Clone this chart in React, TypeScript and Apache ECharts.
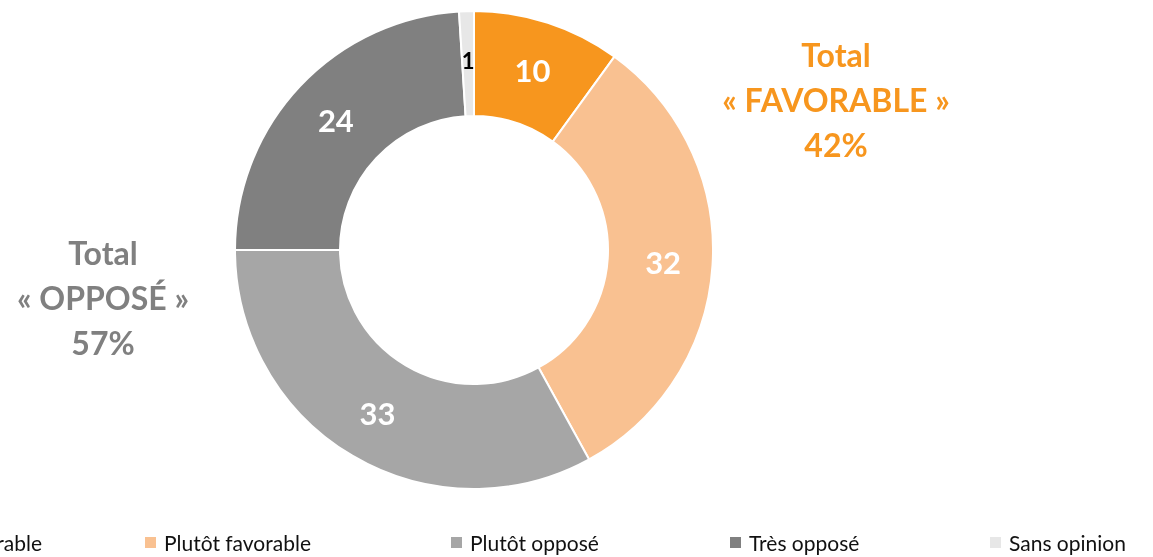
import React, { useEffect, useRef } from "react";
import * as echarts from "echarts";

const categories = ["Très favorable", "Plutôt favorable", "Plutôt opposé", "Très opposé", "Sans opinion"];
const values = [10, 32, 33, 24, 1];
const colors = ["#F7961E", "#F9C191", "#A6A6A6", "#808080", "#E7E7E7"];
const favorableLines = ["Total", "« FAVORABLE »", "42%"];
const opposeLines = ["Total", "« OPPOSÉ »", "57%"];

const FONT = "Lato, 'Noto Sans', sans-serif";

export default function App() {
  const ref = useRef<HTMLDivElement>(null);
  useEffect(() => {
    if (!ref.current) return;
    const chart = echarts.init(ref.current, undefined, { renderer: "svg" });
    const legendLefts: (number | null)[] = [null, 143, 449, 728, 988];
    const legends = categories.map((name, i) => {
      const base: any = {
        data: [name],
        top: 532,
        itemWidth: 13,
        itemHeight: 13,
        icon: "rect",
        itemGap: 0,
        padding: 0,
        selectedMode: false,
        textStyle: { fontSize: 21, fontFamily: FONT, color: "#111", padding: [0, 0, 0, 2] },
      };
      if (legendLefts[i] === null) base.right = 1153 - 42;
      else base.left = legendLefts[i];
      return base;
    });
    const totalText = (lines: string[], x: number, y: number, color: string) => ({
      type: "text",
      x,
      y,
      style: {
        text: lines.join("\n"),
        fill: color,
        font: `bold 32px ${FONT}`,
        lineHeight: 45,
        align: "center",
        verticalAlign: "top",
      },
    });
    chart.setOption({
      animation: false,
      legend: legends,
      graphic: [
        totalText(favorableLines, 836, 32, "#F7961E"),
        totalText(opposeLines, 103, 230, "#808080"),
      ],
      series: [
        {
          type: "pie",
          center: [474, 250],
          radius: [134, 239],
          startAngle: 90,
          clockwise: true,
          avoidLabelOverlap: false,
          itemStyle: { borderColor: "#fff", borderWidth: 2 },
          label: {
            show: true,
            position: "inside",
            formatter: "{c}",
            color: "#fff",
            fontSize: 31,
            fontWeight: "bold",
            fontFamily: FONT,
          },
          labelLine: { show: false },
          emphasis: { disabled: true },
          data: categories.map((name, i) => ({
            name,
            value: values[i],
            itemStyle: { color: colors[i] },
            label: i === 4 ? { color: "#000", fontSize: 22 } : undefined,
          })),
        },
      ],
    });
    return () => chart.dispose();
  }, []);
  return (
    <div
      ref={ref}
      style={{ position: "fixed", left: 0, top: 0, width: 1153, height: 557 }}
    />
  );
}
